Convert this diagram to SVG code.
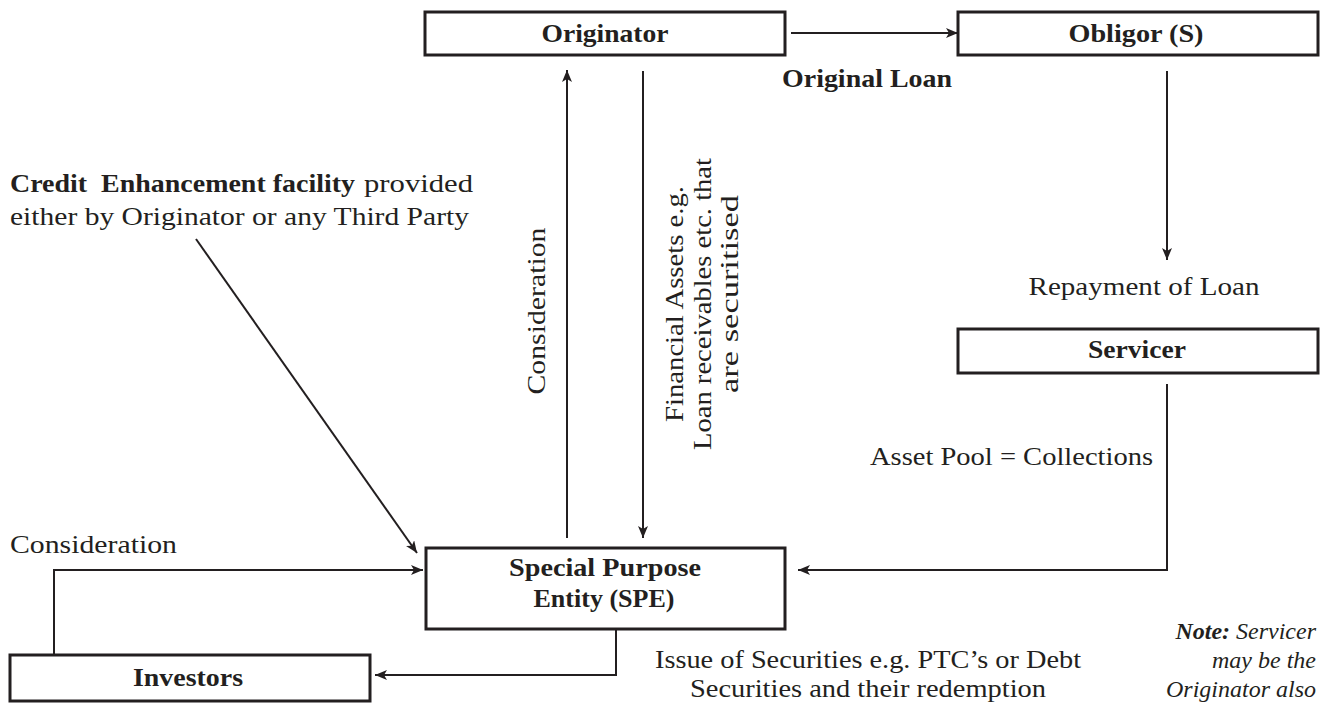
<svg xmlns="http://www.w3.org/2000/svg" width="1327" height="704" viewBox="0 0 1327 704">
<defs>
<marker id="ah" viewBox="0 0 12 10" refX="12" refY="5" markerWidth="12" markerHeight="10" markerUnits="userSpaceOnUse" orient="auto">
<path d="M0,0 L12,5 L0,10 L3,5 Z" fill="#231f20"/>
</marker>
<style>
.box{fill:#fff;stroke:#231f20;stroke-width:3}
.ln{fill:none;stroke:#231f20;stroke-width:2}
.t{font-family:"Liberation Serif","Times New Roman",serif;font-size:26px;fill:#231f20}
.b{font-weight:bold}
.c{text-anchor:middle}
.n{font-family:"Liberation Serif","Times New Roman",serif;font-size:24px;fill:#231f20;font-style:italic;text-anchor:end}
</style>
</defs>
<rect width="1327" height="704" fill="#fff"/>
<g id="connectors">
<line class="ln" x1="791" y1="33" x2="958" y2="33" marker-end="url(#ah)"/>
<line class="ln" x1="1167" y1="71" x2="1167" y2="260" marker-end="url(#ah)"/>
<polyline class="ln" points="1167,384 1167,570 798,570" marker-end="url(#ah)"/>
<line class="ln" x1="567" y1="538" x2="567" y2="70" marker-end="url(#ah)"/>
<line class="ln" x1="643" y1="71" x2="643" y2="538" marker-end="url(#ah)"/>
<line class="ln" x1="196" y1="239" x2="417" y2="553" marker-end="url(#ah)"/>
<polyline class="ln" points="54,655 54,570 423,570" marker-end="url(#ah)"/>
<polyline class="ln" points="616,629 616,675 375,675" marker-end="url(#ah)"/>
</g>
<g id="originator">
<rect class="box" x="425" y="12" width="360" height="43"/>
<text class="t b c" x="605" y="42" textLength="127" lengthAdjust="spacingAndGlyphs">Originator</text>
</g>
<g id="obligor">
<rect class="box" x="958" y="12" width="360" height="43"/>
<text class="t b c" x="1136" y="42" textLength="135" lengthAdjust="spacingAndGlyphs">Obligor (S)</text>
</g>
<g id="servicer">
<rect class="box" x="958" y="329" width="360" height="44"/>
<text class="t b c" x="1137" y="358" textLength="98" lengthAdjust="spacingAndGlyphs">Servicer</text>
</g>
<g id="spe">
<rect class="box" x="426" y="548" width="359" height="81"/>
<text class="t b c" x="605" y="576" textLength="192" lengthAdjust="spacingAndGlyphs">Special Purpose</text>
<text class="t b c" x="604" y="607" textLength="141" lengthAdjust="spacingAndGlyphs">Entity (SPE)</text>
</g>
<g id="investors">
<rect class="box" x="10" y="655" width="360" height="46"/>
<text class="t b c" x="188" y="686" textLength="110" lengthAdjust="spacingAndGlyphs">Investors</text>
</g>
<g id="labels">
<text class="t b c" x="867" y="87" textLength="170" lengthAdjust="spacingAndGlyphs">Original Loan</text>
<text class="t c" x="1144" y="295" textLength="231" lengthAdjust="spacingAndGlyphs">Repayment of Loan</text>
<text class="t" x="870" y="465" textLength="283" lengthAdjust="spacingAndGlyphs">Asset Pool = Collections</text>
<text class="t b" x="10" y="192" style="white-space:pre" textLength="345" lengthAdjust="spacingAndGlyphs">Credit  Enhancement facility</text>
<text class="t" x="364" y="192" textLength="109" lengthAdjust="spacingAndGlyphs">provided</text>
<text class="t" x="10" y="225" textLength="459" lengthAdjust="spacingAndGlyphs">either by Originator or any Third Party</text>
<text class="t c" transform="translate(545,311) rotate(-90)" textLength="167" lengthAdjust="spacingAndGlyphs">Consideration</text>
<g transform="translate(683,304) rotate(-90)">
<text class="t c" x="0" y="0" textLength="236" lengthAdjust="spacingAndGlyphs">Financial Assets e.g.</text>
<text class="t c" x="0" y="28" textLength="292" lengthAdjust="spacingAndGlyphs">Loan receivables etc. that</text>
<text class="t c" x="10" y="55" textLength="198" lengthAdjust="spacingAndGlyphs">are securitised</text>
</g>
<text class="t" x="10" y="553" textLength="167" lengthAdjust="spacingAndGlyphs">Consideration</text>
<text class="t c" x="868" y="668" textLength="426" lengthAdjust="spacingAndGlyphs">Issue of Securities e.g. PTC’s or Debt</text>
<text class="t c" x="868" y="697" textLength="356" lengthAdjust="spacingAndGlyphs">Securities and their redemption</text>
<text class="n" x="1316" y="639"><tspan font-weight="bold">Note:</tspan> Servicer</text>
<text class="n" x="1316" y="668">may be the</text>
<text class="n" x="1316" y="697">Originator also</text>
</g>
</svg>
